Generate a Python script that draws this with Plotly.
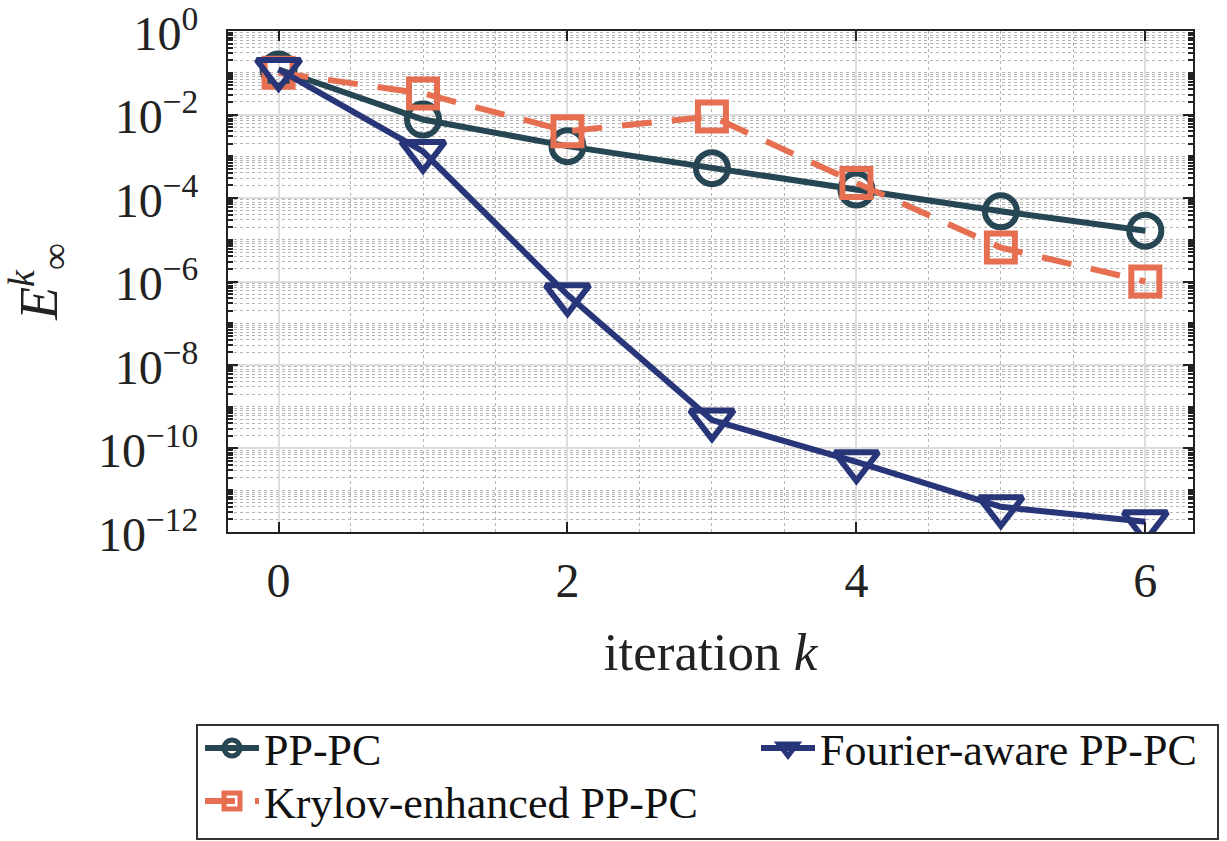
import plotly.graph_objects as go

# ---- data ----
k_iter = [0, 1, 2, 3, 4, 5, 6]
pp_pc = [1.2e-1, 7.6e-3, 1.75e-3, 5.2e-4, 1.6e-4, 4.8e-5, 1.65e-5]
krylov_pp_pc = [1.0e-1, 3.2e-2, 4.0e-3, 9.0e-3, 2.3e-4, 6.5e-6, 1.0e-6]
fourier_pp_pc = [1.2e-1, 1.3e-3, 4.8e-7, 4.8e-10, 4.8e-11, 4.0e-12, 1.75e-12]

series_names = ["PP-PC", "Krylov-enhanced PP-PC", "Fourier-aware PP-PC"]

y_tick_vals = [1e-12, 1e-10, 1e-8, 1e-6, 1e-4, 1e-2, 1e0]
y_tick_text = ["10<sup>−12</sup>", "10<sup>−10</sup>", "10<sup>−8</sup>", "10<sup>−6</sup>",
               "10<sup>−4</sup>", "10<sup>−2</sup>", "10<sup>0</sup>"]
x_tick_vals = [0, 2, 4, 6]

# minor log ticks (2..9 of every decade and the odd decades)
y_minor_vals = []
for e in range(-12, 0):
    for m in range(1, 10):
        if m == 1 and e % 2 == 0:
            continue
        y_minor_vals.append(m * 10.0 ** e)

FONT = "Liberation Serif"
c_pp = "#264653"
c_kr = "#E76F51"
c_fo = "#283679"

# plot area in pixels (for placing the legend box in paper coords)
L, R, T, B = 228, 1193, 31.5, 531.5
W, H = R - L, B - T


def px_x(p):
    return (p - L) / W


def px_y(p):
    return (B - p) / H


fig = go.Figure()
fig.add_trace(go.Scatter(
    x=k_iter, y=pp_pc, name=series_names[0], mode="lines+markers",
    line=dict(color=c_pp, width=6),
    marker=dict(symbol="circle-open", size=32, color=c_pp, line=dict(width=6, color=c_pp)),
    legend="legend",
))
fig.add_trace(go.Scatter(
    x=k_iter, y=krylov_pp_pc, name=series_names[1], mode="lines+markers",
    line=dict(color=c_kr, width=6, dash="30px,20px"),
    marker=dict(symbol="square-open", size=28, color=c_kr, line=dict(width=6, color=c_kr)),
    legend="legend3",
))
fig.add_trace(go.Scatter(
    x=k_iter, y=fourier_pp_pc, name=series_names[2], mode="lines+markers",
    line=dict(color=c_fo, width=6),
    marker=dict(symbol="triangle-down-open", size=38, color=c_fo, line=dict(width=6, color=c_fo)),
    legend="legend2",
))

legend_common = dict(
    orientation="v", xanchor="left", yanchor="top",
    bgcolor="rgba(0,0,0,0)", borderwidth=0,
    font=dict(family=FONT, size=44, color="#111111"),
    itemwidth=54, tracegroupgap=0,
)

fig.update_layout(
    width=1227, height=841,
    margin=dict(l=228, r=34, t=31, b=309, autoexpand=False),
    plot_bgcolor="white", paper_bgcolor="white",
    font=dict(family=FONT, size=48, color="#222222"),
    showlegend=True,
    legend=dict(x=px_x(200), y=px_y(712), **legend_common),
    legend2=dict(x=px_x(756), y=px_y(712), **legend_common),
    legend3=dict(x=px_x(200), y=px_y(765), **legend_common),
    shapes=[dict(type="rect", xref="paper", yref="paper",
                 x0=px_x(197), x1=px_x(1218), y0=px_y(838), y1=px_y(724),
                 line=dict(color="#333333", width=2), fillcolor="rgba(0,0,0,0)", layer="above")],
)

fig.update_xaxes(
    range=[-0.35, 6.33],
    tickmode="array", tickvals=x_tick_vals,
    ticks="inside", ticklen=10, tickwidth=2, tickcolor="#222222",
    showline=True, linecolor="#222222", linewidth=2, mirror="ticks",
    showgrid=True, gridcolor="#dddddd", gridwidth=2,
    zeroline=False,
    minor=dict(dtick=0.5, showgrid=True, gridcolor="#b5b5b5", griddash="dot", gridwidth=1, ticks=""),
    title=dict(text="iteration <i>k</i>", font=dict(size=53), standoff=27),
    tickfont=dict(size=48),
    ticklabelstandoff=5,
)

fig.update_yaxes(
    type="log", range=[-12.001, 0.001],
    tickmode="array", tickvals=y_tick_vals, ticktext=y_tick_text,
    ticks="inside", ticklen=10, tickwidth=2, tickcolor="#222222",
    showline=True, linecolor="#222222", linewidth=2, mirror="ticks",
    showgrid=True, gridcolor="#dddddd", gridwidth=2,
    zeroline=False,
    minor=dict(tickmode="array", tickvals=y_minor_vals, showgrid=True, gridcolor="#b5b5b5",
               griddash="dot", gridwidth=1, ticks="inside", ticklen=5, tickcolor="#222222"),
    title=dict(text="<i>E</i><sup><i>k</i></sup><sub>∞</sub>", font=dict(size=54), standoff=50),
    tickfont=dict(size=48),
    ticklabelstandoff=18,
    ticklabelshift=2,
    ticklabeloverflow="allow",
)

fig.write_html("out.html")
